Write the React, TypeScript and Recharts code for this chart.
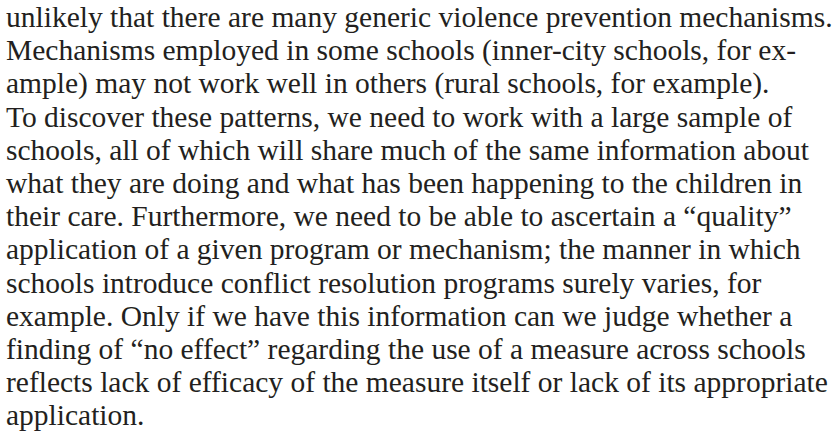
import { Surface, Text } from "recharts";

// the reference holds a paragraph of body text only, one entry per printed line
const lines = [
  "unlikely that there are many generic violence prevention mechanisms.",
  "Mechanisms employed in some schools (inner-city schools, for ex-",
  "ample) may not work well in others (rural schools, for example).",
  "To discover these patterns, we need to work with a large sample of",
  "schools, all of which will share much of the same information about",
  "what they are doing and what has been happening to the children in",
  "their care. Furthermore, we need to be able to ascertain a \u201cquality\u201d",
  "application of a given program or mechanism; the manner in which",
  "schools introduce conflict resolution programs surely varies, for",
  "example. Only if we have this information can we judge whether a",
  "finding of \u201cno effect\u201d regarding the use of a measure across schools",
  "reflects lack of efficacy of the measure itself or lack of its appropriate",
  "application.",
];

const W = 834;
const H = 436;
const FIRST_BASELINE = 27;
const LINE_GAP = 33.2;

export default function App() {
  return (
    <div style={{ position: "absolute", left: 0, top: 0, width: W, height: H, background: "#fff" }}>
      <Surface width={W} height={H}>
        {lines.map((line, i) => (
          <Text
            key={i}
            x={6}
            y={FIRST_BASELINE + i * LINE_GAP}
            textAnchor="start"
            verticalAnchor="end"
            fontFamily="'Liberation Serif', 'Times New Roman', serif"
            fontSize={29.5}
            fill="#231f20"
          >
            {line}
          </Text>
        ))}
      </Surface>
    </div>
  );
}
